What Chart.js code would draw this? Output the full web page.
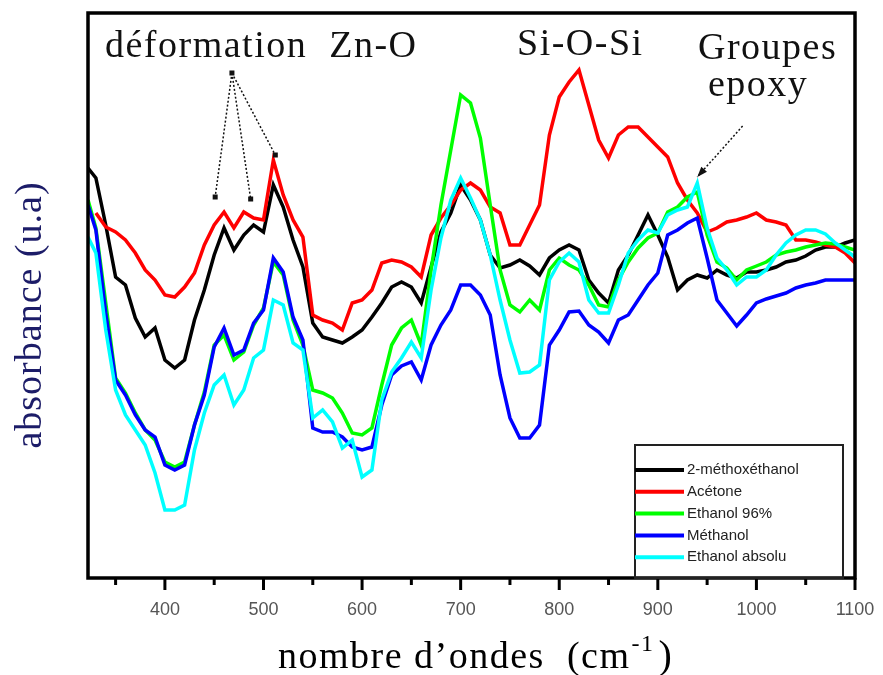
<!DOCTYPE html>
<html>
<head>
<meta charset="utf-8">
<style>
  html, body { margin: 0; padding: 0; background: #fff; }
  #wrap { width: 883px; height: 675px; }
</style>
<script src="https://cdn.jsdelivr.net/npm/chart.js@4.4.0/dist/chart.umd.min.js"></script>
</head>
<body>
<div id="wrap"><canvas id="spectre" width="883" height="675"></canvas></div>
<script>
// nombre d'ondes (cm-1)
const wavenumbers = [322, 330, 340, 350, 360, 370, 380, 390, 400, 410, 420, 430, 440, 450, 460, 470, 480, 490, 500,
  510, 520, 530, 540, 550, 560, 570, 580, 590, 600, 610, 620, 630, 640, 650, 660, 670, 680, 690, 700,
  710, 720, 730, 740, 750, 760, 770, 780, 790, 800, 810, 820, 830, 840, 850, 860, 870, 880, 890, 900,
  910, 920, 930, 940, 950, 960, 970, 980, 990, 1000, 1010, 1020, 1030, 1040, 1050, 1060, 1070, 1080, 1090, 1100];

// absorbance (u.a)
const methoxyethanol = [410, 400, 353, 301, 293, 260, 241, 250, 218, 210, 218, 258, 288, 323, 350, 328, 343, 353, 346,
  393, 371, 338, 311, 255, 241, 238, 235, 241, 248, 261, 275, 291, 296, 291, 275, 311, 346, 365, 393,
  378, 358, 323, 310, 313, 318, 312, 303, 320, 328, 333, 328, 298, 285, 275, 308, 323, 343, 363, 343,
  321, 288, 298, 303, 300, 308, 303, 300, 306, 306, 308, 311, 316, 318, 322, 328, 331, 331, 335, 338];
const acetone = [null, 365, 351, 346, 338, 325, 308, 298, 283, 281, 291, 305, 333, 353, 366, 350, 366, 360, 358,
  418, 383, 358, 341, 263, 258, 255, 248, 275, 278, 288, 315, 318, 316, 311, 301, 343, 360, 373, 388,
  395, 388, 371, 365, 333, 333, 353, 373, 443, 481, 496, 508, 473, 438, 420, 443, 451, 451, 441, 431,
  421, 395, 378, 365, 346, 350, 356, 358, 361, 365, 358, 356, 353, 338, 338, 336, 333, 331, 325, 315];
const ethanol96 = [378, 350, 275, 200, 185, 165, 148, 138, 116, 111, 116, 153, 186, 233, 243, 218, 226, 253, 270,
  316, 303, 258, 233, 188, 185, 180, 165, 145, 143, 150, 193, 233, 250, 258, 233, 308, 373, 428, 483,
  475, 440, 373, 308, 273, 266, 278, 268, 308, 320, 313, 308, 293, 273, 271, 298, 316, 330, 340, 345,
  366, 371, 381, 386, 343, 316, 310, 298, 308, 312, 316, 323, 326, 328, 331, 333, 335, 334, 331, 328];
const methanol = [373, 348, 265, 198, 183, 163, 148, 141, 113, 108, 113, 153, 183, 231, 250, 223, 228, 255, 268,
  320, 306, 261, 238, 150, 146, 146, 141, 131, 128, 131, 173, 203, 212, 216, 198, 233, 253, 268, 293,
  293, 283, 263, 203, 160, 140, 140, 153, 233, 248, 266, 267, 253, 246, 235, 258, 263, 278, 293, 305,
  343, 348, 355, 360, 320, 278, 265, 252, 263, 275, 279, 282, 285, 290, 293, 295, 298, 298, 298, 298];
const ethanolAbsolu = [341, 325, 248, 188, 163, 148, 133, 105, 68, 68, 73, 128, 165, 193, 203, 173, 188, 220, 228,
  278, 273, 235, 228, 160, 168, 156, 130, 138, 101, 108, 178, 206, 220, 236, 220, 288, 340, 378, 400,
  380, 358, 323, 278, 238, 205, 206, 213, 298, 316, 325, 316, 278, 265, 265, 293, 325, 338, 348, 345,
  363, 368, 371, 395, 350, 320, 308, 293, 301, 301, 308, 323, 335, 343, 348, 348, 344, 335, 328, 321];

const seriesNames = ["2-méthoxéthanol", "Acétone", "Ethanol 96%", "Méthanol", "Ethanol absolu"];
const seriesColors = ["#000000", "#ff0000", "#00ff00", "#0000ff", "#00ffff"];

// graduations de l'axe x
const xTicks = [350, 400, 450, 500, 550, 600, 650, 700, 750, 800, 850, 900, 950, 1000, 1050, 1100];
const xTickLabels = ["400", "500", "600", "700", "800", "900", "1000", "1100"];

const serif = '"Liberation Serif", "Times New Roman", serif';
const sans = '"Liberation Sans", Arial, sans-serif';

function points(values) {
  return wavenumbers.map(function (x, i) {
    return { x: x, y: values[i] };
  });
}

const allSeries = [methoxyethanol, acetone, ethanol96, methanol, ethanolAbsolu];

const decor = {
  id: "decor",
  afterDraw(chart) {
    const ctx = chart.ctx;
    const a = chart.chartArea;
    const xs = chart.scales.x;
    const ys = chart.scales.y;
    ctx.save();

    // cadre
    ctx.strokeStyle = "#000";
    ctx.lineWidth = 3.5;
    ctx.strokeRect(a.left, a.top, a.right - a.left, a.bottom - a.top);

    // graduations (majeures / mineures)
    ctx.lineWidth = 3;
    xs.ticks.forEach(function (t) {
      const px = xs.getPixelForValue(t.value);
      const len = t.value % 100 === 0 ? 12 : 7;
      ctx.beginPath();
      ctx.moveTo(px, a.bottom);
      ctx.lineTo(px, a.bottom + len);
      ctx.stroke();
    });

    // legende
    const lx = a.right - 220, ly = a.bottom - 133;
    ctx.lineWidth = 2;
    ctx.strokeStyle = "#222";
    ctx.strokeRect(lx, ly, 208, a.bottom - ly);
    ctx.font = "15px " + sans;
    ctx.textBaseline = "middle";
    chart.data.datasets.forEach(function (ds, i) {
      const yy = ly + 25 + i * 21.8;
      ctx.strokeStyle = ds.borderColor;
      ctx.lineWidth = 4;
      ctx.beginPath();
      ctx.moveTo(lx, yy);
      ctx.lineTo(lx + 49, yy);
      ctx.stroke();
      ctx.fillStyle = "#222";
      ctx.fillText(ds.label, lx + 52, yy);
    });

    // annotations
    ctx.fillStyle = "#111";
    ctx.strokeStyle = "#111";
    ctx.textBaseline = "alphabetic";
    ctx.font = "38px " + serif;
    ctx.letterSpacing = "1.5px";
    ctx.fillText("déformation  Zn-O", 105, 57);
    ctx.fillText("Si-O-Si", 517, 55);
    ctx.fillText("Groupes", 698, 59);
    ctx.fillText("epoxy", 708, 96);

    const apex = [xs.getPixelForValue(468), ys.getPixelForValue(505)];
    const ends = [[451, 381], [487, 379], [512, 423]];
    ctx.lineWidth = 1.5;
    ends.forEach(function (e) {
      const ex = xs.getPixelForValue(e[0]), ey = ys.getPixelForValue(e[1]);
      ctx.setLineDash([2, 2]);
      ctx.beginPath();
      ctx.moveTo(apex[0], apex[1]);
      ctx.lineTo(ex, ey);
      ctx.stroke();
      ctx.setLineDash([]);
      ctx.fillRect(ex - 2.5, ey - 2.5, 5, 5);
    });
    ctx.fillRect(apex[0] - 2.5, apex[1] - 2.5, 5, 5);

    // fleche epoxy
    const tx = xs.getPixelForValue(986), ty = ys.getPixelForValue(452);
    const hx = xs.getPixelForValue(940), hy = ys.getPixelForValue(401);
    ctx.setLineDash([2, 2]);
    ctx.beginPath();
    ctx.moveTo(tx, ty);
    ctx.lineTo(hx, hy);
    ctx.stroke();
    ctx.setLineDash([]);
    const ang = Math.atan2(hy - ty, hx - tx);
    ctx.beginPath();
    ctx.moveTo(hx, hy);
    ctx.lineTo(hx - 11 * Math.cos(ang - 0.35), hy - 11 * Math.sin(ang - 0.35));
    ctx.lineTo(hx - 11 * Math.cos(ang + 0.35), hy - 11 * Math.sin(ang + 0.35));
    ctx.closePath();
    ctx.fill();

    // titre axe x
    ctx.fillStyle = "#000";
    ctx.font = "38px " + serif;
    let cx = 278;
    const base = 668;
    const part1 = "nombre d\u2019ondes  (cm";
    ctx.fillText(part1, cx, base);
    cx += ctx.measureText(part1).width;
    ctx.font = "24px " + serif;
    ctx.fillText("-1", cx + 1, base - 17);
    cx += ctx.measureText("-1").width + 5;
    ctx.font = "40px " + serif;
    ctx.fillText(")", cx, base);

    // titre axe y
    ctx.letterSpacing = "1px";
    ctx.translate(41, 315);
    ctx.rotate(-Math.PI / 2);
    ctx.textAlign = "center";
    ctx.font = "38px " + serif;
    ctx.fillStyle = "#1c1c68";
    ctx.fillText("absorbance (u.a)", 0, 0);

    ctx.restore();
  },
};

new Chart(document.getElementById("spectre"), {
  type: "line",
  data: {
    datasets: allSeries.map(function (values, i) {
      return {
        label: seriesNames[i],
        data: points(values),
        borderColor: seriesColors[i],
        backgroundColor: seriesColors[i],
        borderWidth: 3.5,
        pointRadius: 0,
        tension: 0,
        fill: false,
        order: allSeries.length - i,
      };
    }),
  },
  options: {
    responsive: false,
    animation: false,
    devicePixelRatio: 1,
    layout: { padding: { left: 88, right: 28, top: 13, bottom: 0 } },
    plugins: {
      legend: { display: false },
      tooltip: { enabled: false },
    },
    scales: {
      x: {
        type: "linear",
        min: 322,
        max: 1100,
        border: { display: false },
        grid: { display: false },
        afterBuildTicks: function (scale) {
          scale.ticks = xTicks.map(function (v) {
            return { value: v };
          });
        },
        afterFit: function (scale) {
          scale.height = 97;
          scale.paddingLeft = 0;
          scale.paddingRight = 0;
        },
        ticks: {
          autoSkip: false,
          maxRotation: 0,
          padding: 13,
          color: "#555",
          font: { size: 18, family: sans },
          callback: function (value) {
            const label = String(value);
            return xTickLabels.indexOf(label) >= 0 ? label : "";
          },
        },
      },
      y: {
        display: false,
        min: 0,
        max: 565,
      },
    },
  },
  plugins: [decor],
});
</script>
</body>
</html>
